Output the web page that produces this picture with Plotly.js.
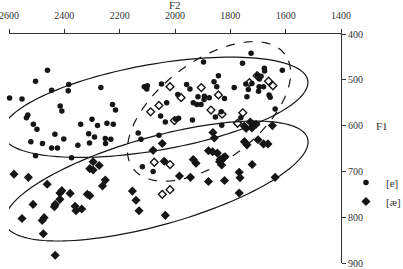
<!DOCTYPE html>
<html><head><meta charset="utf-8">
<script src="https://cdn.plot.ly/plotly-3.0.1.min.js"></script>
<style>html,body{margin:0;padding:0;background:#fff}#chart{width:403px;height:269px}</style>
</head><body><div id="chart"></div>
<script>
// [e] vowel tokens (filled circles)
const eF2 = [2461,2504,2384,2446,2386,2268,2598,2553,2415,2409,2532,2537,2512,2499,2341,2300,2280,2246,2223,2226,2215,2434,2402,2312,2291,2252,2232,2251,2521,2479,2446,2425,2351,2309,2504,2374,
  1897,2111,2100,2102,2049,1958,1946,1843,1859,1849,1990,1917,1894,1876,1934,1921,1906,1895,2030,2052,2035,1997,1987,1937,1854,1833,2133,2058,2123,1831,
  1725,1756,1677,1676,1612,1702,1689,1695,1744,1722,1735,1696,1680,1698,1786,1660,1656,1740,1821,1638,1762,2118,2079];
const eF1 = [479,503,510,523,524,517,540,542,557,568,577,583,597,608,597,586,600,595,597,554,566,619,629,618,625,628,630,639,635,639,649,649,643,638,666,670,
  461,515,513,520,509,510,520,491,504,515,532,537,536,539,550,554,554,543,550,579,592,586,584,588,581,570,616,621,630,599,
  442,464,475,481,479,490,492,498,509,508,521,515,515,525,517,533,538,537,541,564,583,690,700];
// [æ] vowel tokens (filled diamonds)
const aeF2 = [2296,2274,2308,2296,2582,2530,2252,2262,2462,2409,2416,2379,2317,2308,2416,2433,2436,2513,2361,2337,2358,2553,2473,2480,2476,2433,
  2046,1863,1858,2079,1879,1864,1847,1934,1924,1837,1839,1831,1825,1728,1716,1707,1722,1743,1750,1700,1680,1664,1749,1740,1648,1819,2039,1984,1944,1879,1821,2154,2141,2130,2035,1721,1768,1765,1638,1768];
const aeF1 = [679,687,694,697,706,713,719,732,728,742,747,748,750,753,761,772,777,772,776,782,786,803,801,807,836,883,
  639,615,627,654,655,657,660,674,682,674,679,686,670,592,599,597,605,606,601,631,640,640,635,642,600,668,678,710,713,722,720,743,763,786,796,685,702,714,713,747];
// open diamonds (unlabelled tokens)
const oF2 = [2018,1978,2058,2088,2002,1905,1843,1870,1830,1731,1703,1662,1646,1755,1774,2075,2018,2046,2018];
const oF1 = [515,539,556,570,589,517,533,566,575,506,491,503,513,572,595,680,685,750,740];

const xTicks = [2600,2400,2200,2000,1800,1600,1400];
const yTicks = [400,500,600,700,800,900];
const legendLabels = ['[e]','[æ]'];

const W=403,H=269,M={l:9,r:62,t:34,b:6,autoexpand:false};
const xRange=[2600,1400], yRange=[900,400];
const pw=W-M.l-M.r, ph=H-M.t-M.b;
const pxPerF2=pw/Math.abs(xRange[0]-xRange[1]), pxPerF1=ph/Math.abs(yRange[0]-yRange[1]);
function ellipsePath(cF2,cF1,a,b,angDeg){
  const t=angDeg*Math.PI/180; let d='';
  for(let i=0;i<=144;i++){
    const p=2*Math.PI*i/144;
    const dx=a*Math.cos(p)*Math.cos(t)-b*Math.sin(p)*Math.sin(t);
    const dy=a*Math.cos(p)*Math.sin(t)+b*Math.sin(p)*Math.cos(t);
    const X=cF2-dx/pxPerF2, Y=cF1-dy/pxPerF1;
    d+=(i?'L':'M')+X.toFixed(2)+','+Y.toFixed(2);
  }
  return d+'Z';
}
const font='Liberation Serif';
const ink='#151515';
const traces=[
  {x:eF2,y:eF1,type:'scatter',mode:'markers',name:legendLabels[0],cliponaxis:false,
   marker:{symbol:'circle',size:5.5,color:ink}},
  {x:aeF2,y:aeF1,type:'scatter',mode:'markers',name:legendLabels[1],cliponaxis:false,
   marker:{symbol:'diamond',size:7,color:ink}},
  {x:oF2,y:oF1,type:'scatter',mode:'markers',showlegend:false,cliponaxis:false,
   marker:{symbol:'diamond-open',size:6,color:ink,line:{width:1.4,color:ink}}}
];
const layout={
  width:W,height:H,margin:M,paper_bgcolor:'#fff',plot_bgcolor:'#fff',
  font:{family:font,color:'#333'},
  xaxis:{range:xRange,side:'top',tickvals:xTicks,ticks:'outside',ticklen:4,tickcolor:'#333',
    showline:true,linecolor:'#333',linewidth:1,showgrid:false,zeroline:false,automargin:false,
    tickfont:{family:font,size:10,color:'#333'},ticklabelstandoff:6,ticklabeloverflow:'allow'},
  yaxis:{range:yRange,side:'right',tickvals:yTicks,ticks:'outside',ticklen:4,tickcolor:'#333',
    showline:true,linecolor:'#333',linewidth:1,showgrid:false,zeroline:false,automargin:false,
    tickfont:{family:font,size:10,color:'#333'},ticklabeloverflow:'allow'},
  showlegend:true,
  legend:{x:1.015,xanchor:'left',y:0.31,yanchor:'middle',font:{family:font,size:11,color:'#333'},
    bgcolor:'rgba(0,0,0,0)',borderwidth:0},
  annotations:[
    {text:'F2',xref:'paper',yref:'paper',x:0.5,y:1.125,xanchor:'center',yanchor:'middle',
     showarrow:false,font:{family:font,size:11,color:'#333'}},
    {text:'F1',xref:'paper',yref:'y',x:1.10,y:600,xanchor:'left',yanchor:'middle',
     showarrow:false,font:{family:font,size:11,color:'#333'}}],
  shapes:[
    {type:'path',xref:'x',yref:'y',path:ellipsePath(2072,560,155,43,10),line:{color:ink,width:1.2}},
    {type:'path',xref:'x',yref:'y',path:ellipsePath(2067,721,157,44,15.7),line:{color:ink,width:1.2}},
    {type:'path',xref:'x',yref:'y',path:ellipsePath(1877,569,95,50,37),line:{color:ink,width:1.2,dash:'dash'}}
  ]
};
Plotly.newPlot('chart',traces,layout,{displayModeBar:false,staticPlot:true});
</script></body></html>
